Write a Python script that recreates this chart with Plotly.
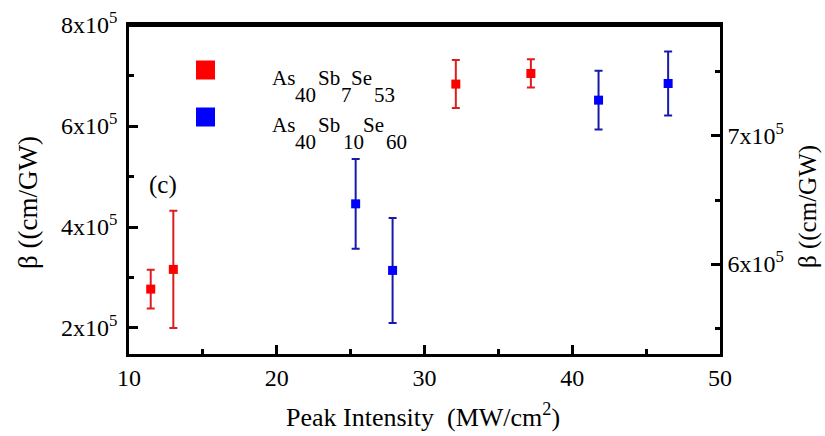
import plotly.graph_objects as go

# ---------------- data ----------------
red_x = [11.47, 13.0, 32.12, 37.2]
red_y = [2.77e5, 3.16e5, 6.83e5, 7.04e5]
red_err = [0.385e5, 1.16e5, 0.475e5, 0.28e5]

blue_x = [25.34, 27.84, 41.78, 46.49]
blue_y = [6.47e5, 5.95e5, 7.28e5, 7.41e5]
blue_err = [0.35e5, 0.41e5, 0.23e5, 0.25e5]

x_ticks = [10, 20, 30, 40, 50]
x_minor = [15, 25, 35, 45]
yl_ticks = [2e5, 4e5, 6e5, 8e5]
yl_ticktext = ["2x10<sup>5</sup>", "4x10<sup>5</sup>", "6x10<sup>5</sup>", "8x10<sup>5</sup>"]
yl_minor = [3e5, 5e5, 7e5]
yr_ticks = [6e5, 7e5]
yr_ticktext = ["6x10<sup>5</sup>", "7x10<sup>5</sup>"]
yr_minor = [5.5e5, 6.5e5, 7.5e5]

legend_names = [
    [("As", "main"), ("40", "sub"), ("Sb", "main"), ("7", "sub"), ("Se", "main"), ("53", "sub")],
    [("As", "main"), ("40", "sub"), ("Sb", "main"), ("10", "sub"), ("Se", "main"), ("60", "sub")],
]
legend_colors = ["#ff0000", "#0000ff"]

# ---------------- layout geometry ----------------
W, H = 825, 436
L, R, T, B = 129, 720, 25, 354
FONT = "Liberation Serif"


def px(xp):
    return (xp - L) / (R - L)


def py(yp):
    return (B - yp) / (B - T)


fig = go.Figure()

fig.add_trace(go.Scatter(
    x=red_x, y=red_y, mode="markers",
    marker=dict(symbol="square", size=9, color="#ff0000"),
    error_y=dict(type="data", array=red_err, visible=True, color="#dd1e1e",
                 thickness=2, width=4),
    showlegend=False, yaxis="y"))

fig.add_trace(go.Scatter(
    x=blue_x, y=blue_y, mode="markers",
    marker=dict(symbol="square", size=9, color="#0000ff"),
    error_y=dict(type="data", array=blue_err, visible=True, color="#1a1aaa",
                 thickness=2, width=4),
    showlegend=False, yaxis="y2"))

line_common = dict(showline=True, linecolor="black", linewidth=2.5,
                   showgrid=False, zeroline=False)
tick_common = dict(ticks="inside", ticklen=9, tickwidth=2.5, tickcolor="black",
                   automargin=False,
                   tickfont=dict(family=FONT, size=24, color="black"))

fig.update_layout(
    width=W, height=H,
    margin=dict(l=L, r=W - R, t=T, b=H - B),
    paper_bgcolor="white", plot_bgcolor="white",
    showlegend=False,
    font=dict(family=FONT, color="black"),
    xaxis=dict(range=[10, 50], tickvals=x_ticks, ticktext=[str(v) for v in x_ticks],
               mirror=True,
               minor=dict(tickvals=x_minor, ticks="inside", ticklen=5, tickwidth=2.5,
                          tickcolor="black"),
               **line_common, **tick_common),
    yaxis=dict(range=[1.485e5, 8e5], tickvals=yl_ticks, ticktext=yl_ticktext,
               minor=dict(tickvals=yl_minor, ticks="inside", ticklen=5, tickwidth=2.5,
                          tickcolor="black"),
               ticklabelstandoff=4,
               **line_common, **tick_common),
    yaxis2=dict(range=[5.297e5, 7.867e5], tickvals=yr_ticks, ticktext=yr_ticktext,
                overlaying="y", side="right",
                minor=dict(tickvals=yr_minor, ticks="inside", ticklen=5, tickwidth=2.5,
                           tickcolor="black"),
                **line_common, **tick_common),
)

annotations = []
# axis titles
annotations.append(dict(text="Peak Intensity\u00a0\u00a0(MW/cm<sup>2</sup>)",
                        x=px(423), y=py(415), xref="paper", yref="paper",
                        showarrow=False, xanchor="center", yanchor="middle",
                        font=dict(family=FONT, size=26, color="black")))
annotations.append(dict(text="\u03b2 ((cm/GW)", textangle=-90,
                        x=px(28), y=py(203), xref="paper", yref="paper",
                        showarrow=False, xanchor="center", yanchor="middle",
                        font=dict(family=FONT, size=27, color="black")))
annotations.append(dict(text="\u03b2 ((cm/GW)", textangle=-90,
                        x=px(808), y=py(207), xref="paper", yref="paper",
                        showarrow=False, xanchor="center", yanchor="middle",
                        font=dict(family=FONT, size=25, color="black")))
annotations.append(dict(text="(c)", x=px(163), y=py(185), xref="paper", yref="paper",
                        showarrow=False, xanchor="center", yanchor="middle",
                        font=dict(family=FONT, size=25, color="black")))

# legend text (formula with dropped subscripts)
chunk_x = [[270, 293, 316, 339, 349, 372], [270, 293, 316, 341, 361, 384]]
row_base = [85, 132]
for r, row in enumerate(legend_names):
    for (txt, kind), xp in zip(row, chunk_x[r]):
        yb = row_base[r] + (17 if kind == "sub" else 0)
        annotations.append(dict(text=txt, x=px(xp), y=py(yb - 7), xref="paper", yref="paper",
                                showarrow=False, xanchor="left", yanchor="middle",
                                font=dict(family=FONT, size=21, color="black")))

fig.update_layout(annotations=annotations)

# legend squares and top frame (filled thin bar)
sq_centers = [(205.5, 70), (205.5, 117)]
shapes = []
for (cx, cy), col in zip(sq_centers, legend_colors):
    shapes.append(dict(type="rect", xref="paper", yref="paper",
                       x0=px(cx - 9.5), x1=px(cx + 9.5), y0=py(cy + 9.5), y1=py(cy - 9.5),
                       fillcolor=col, line=dict(width=0)))
shapes.append(dict(type="rect", xref="paper", yref="paper", layer="above",
                   x0=px(L - 1), x1=px(R + 1), y0=py(T + 2), y1=py(T - 2),
                   fillcolor="black", line=dict(width=0)))
fig.update_layout(shapes=shapes)

fig.write_html("out.html",
               config={"displayModeBar": False},
               post_script="document.body.style.margin='0';document.body.style.padding='0';")
